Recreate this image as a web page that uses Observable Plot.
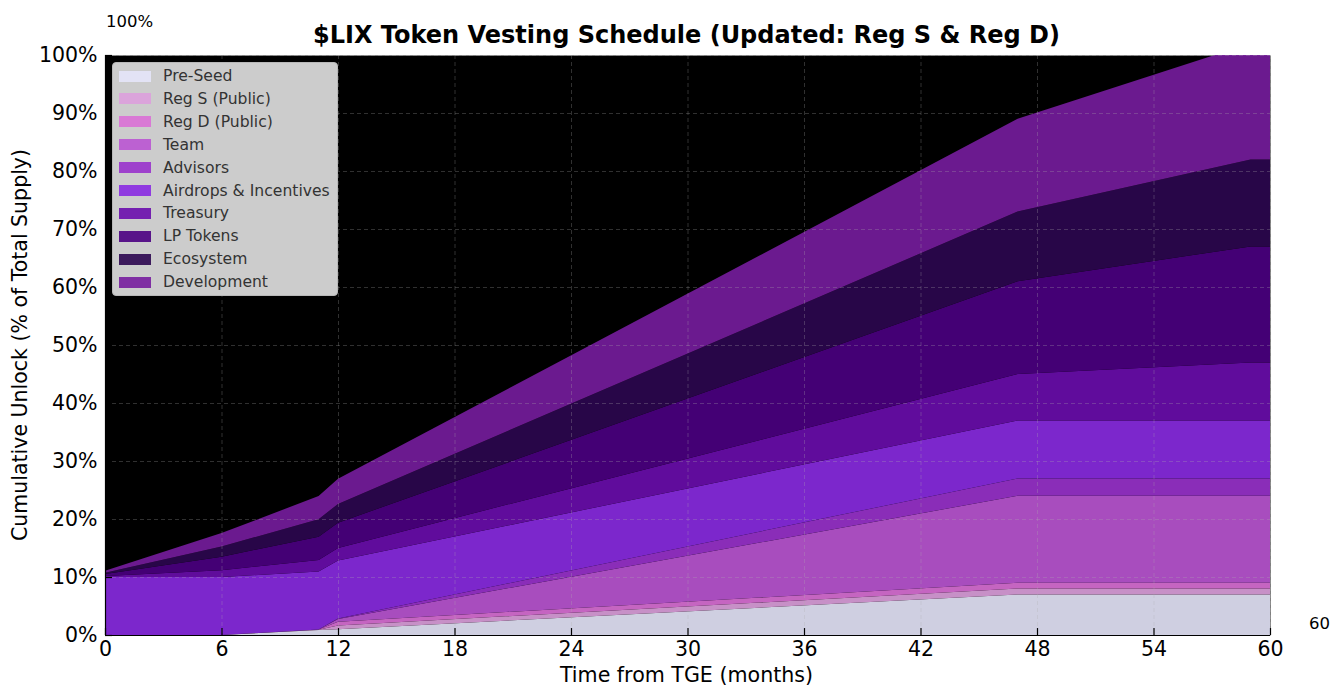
<!DOCTYPE html>
<html>
<head>
<meta charset="utf-8">
<script src="https://cdn.jsdelivr.net/npm/d3@7"></script>
<script src="https://cdn.jsdelivr.net/npm/@observablehq/plot@0.6"></script>
<style>
  html, body { margin: 0; padding: 0; background: #fff; }
  #wrap { position: relative; width: 1333px; height: 686px; font-family: "DejaVu Sans", sans-serif; color: #000; overflow: hidden; }
  #wrap svg { position: absolute; left: 0; top: 0; }
  .abs { position: absolute; white-space: nowrap; }
  #title { left: 0; width: 1373px; top: 21px; text-align: center; font-weight: bold; font-size: 24px; }
  #xlabel { left: 0; width: 1373px; top: 665px; line-height: 1; text-align: center; font-size: 20.6px; }
  #ylabel { left: 20px; top: 345px; font-size: 20.5px; transform: translate(-50%, -50%) rotate(-90deg); }
  #stray1 { left: 106px; top: 12px; font-size: 16.5px; }
  #stray2 { left: 1309px; top: 614px; font-size: 16.5px; }
  #legend { left: 112px; top: 62px; width: 226px; height: 234px; background: #cccccc; border: 1px solid #b8b8b8; border-radius: 4px; box-sizing: border-box; }
  .row { position: absolute; left: 6px; height: 20px; display: flex; align-items: center; font-size: 15.6px; color: #333; }
  .sw { width: 32px; height: 11px; margin-right: 12px; }
</style>
</head>
<body>
<div id="wrap">
  <div id="chart"></div>
  <div class="abs" id="title">$LIX Token Vesting Schedule (Updated: Reg S &amp; Reg D)</div>
  <div class="abs" id="xlabel">Time from TGE (months)</div>
  <div class="abs" id="ylabel">Cumulative Unlock (% of Total Supply)</div>
  <div class="abs" id="stray1">100%</div>
  <div class="abs" id="stray2">60</div>
  <div class="abs" id="legend"></div>
</div>
<script>
// ---- data ----
const months = [0, 6, 11, 12, 47, 59, 60];
const layers = ["Pre-Seed", "Reg S (Public)", "Reg D (Public)", "Team", "Advisors",
  "Airdrops & Incentives", "Treasury", "LP Tokens", "Ecosystem", "Development"];
const preSeed     = [0,    0,    0.85, 1.0,  7,  7,  7];
const regS        = [0,    0,    0.05, 0.65, 1,  1,  1];
const regD        = [0,    0,    0.05, 0.65, 1,  1,  1];
const team        = [0,    0,    0,    0.45, 15, 15, 15];
const advisors    = [0,    0,    0,    0.1,  3,  3,  3];
const airdrops    = [10,   10,   10,   10,   10, 10, 10];
const treasury    = [0.17, 1.17, 2.0,  2.17, 8,  10, 10];
const lpTokens    = [0.33, 2.33, 4.0,  4.33, 16, 20, 20];
const ecosystem   = [0.25, 1.75, 3.0,  3.25, 12, 15, 15];
const development = [0.33, 2.33, 4.0,  4.33, 16, 20, 20];
const xTicks = [0, 6, 12, 18, 24, 30, 36, 42, 48, 54, 60];
const yTicks = [0, 10, 20, 30, 40, 50, 60, 70, 80, 90, 100];

// ---- styles ----
const palette = ["#E6E6FA", "#DDA0DD", "#DA70D6", "#BA55D3", "#9932CC",
  "#8A2BE2", "#6A0DAD", "#4B0082", "#2C0750", "#771D9E"];

const series = [preSeed, regS, regD, team, advisors, airdrops, treasury, lpTokens, ecosystem, development];
const rows = [];
layers.forEach((name, i) => months.forEach((m, j) => rows.push({layer: name, month: m, value: series[i][j]})));

const chart = Plot.plot({
  width: 1333, height: 686,
  marginLeft: 105, marginRight: 63, marginTop: 55, marginBottom: 51,
  x: {domain: [0, 60]},
  y: {domain: [0, 100]},
  color: {domain: layers, range: palette},
  style: {fontFamily: "DejaVu Sans", fontSize: "20.5px", color: "#000", background: "transparent", overflow: "visible"},
  marks: [
    Plot.frame({fill: "black"}),
    Plot.areaY(rows, {x: "month", y: "value", z: "layer", fill: "layer", fillOpacity: 0.9, clip: true}),
    Plot.gridX(xTicks, {stroke: "#b0b0b0", strokeOpacity: 0.35, strokeDasharray: "4,3", strokeWidth: 0.8}),
    Plot.gridY(yTicks, {stroke: "#b0b0b0", strokeOpacity: 0.35, strokeDasharray: "4,3", strokeWidth: 0.8}),
    Plot.ruleY([0], {stroke: "black", strokeWidth: 1.2}),
    Plot.ruleX([0], {stroke: "black", strokeWidth: 1.2}),
    Plot.ruleX(xTicks, {x: d => d, y1: 0, y2: 1.2, stroke: "black", strokeWidth: 1.2}),
    Plot.ruleY(yTicks, {y: d => d, x1: 0, x2: 0.36, stroke: "black", strokeWidth: 1.2}),
    Plot.axisX(xTicks, {tickSize: 0, tickPadding: 6, label: null, fontSize: 20.5}),
    Plot.axisY(yTicks, {tickSize: 0, tickPadding: 8, label: null, fontSize: 20.5, tickFormat: d => d + "%"})
  ]
});
document.getElementById("chart").appendChild(chart);

// legend
const legend = document.getElementById("legend");
layers.forEach((name, i) => {
  const r = document.createElement("div");
  r.className = "row";
  r.style.top = (3 + i * 22.9) + "px";
  const sw = document.createElement("span");
  sw.className = "sw";
  sw.style.background = palette[i];
  sw.style.opacity = 0.9;
  const t = document.createElement("span");
  t.textContent = name;
  r.appendChild(sw); r.appendChild(t);
  legend.appendChild(r);
});
</script>
</body>
</html>
